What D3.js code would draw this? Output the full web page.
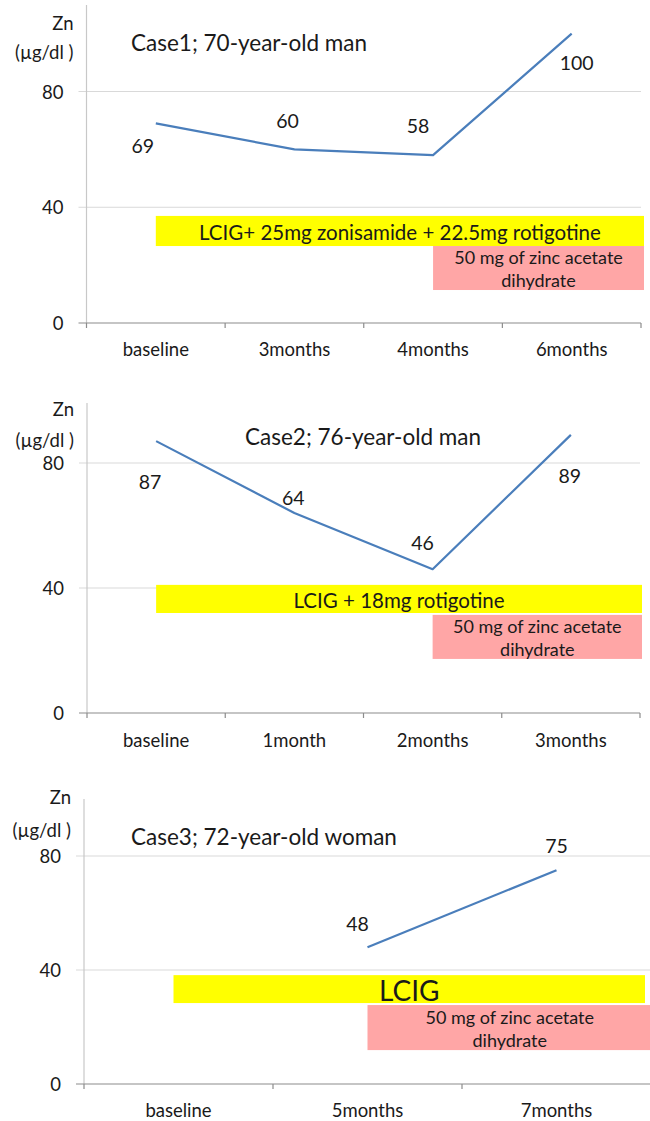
<!DOCTYPE html>
<html>
<head>
<meta charset="utf-8">
<script src="https://cdn.jsdelivr.net/npm/d3@7"></script>
<style>
  html, body { margin: 0; padding: 0; background: #fff; }
  svg { display: block; }
  text { font-family: Lato, "Open Sans", sans-serif; fill: #1a1a1a; }
</style>
</head>
<body>
<svg id="chart" width="650" height="1121"></svg>
<script>
// ---------- data ----------
const yTickValues = [0, 40, 80];
const yUnitLabel = ["Zn", "(\u00b5g/dl )"];
const zincLabel = ["50 mg of zinc acetate", "dihydrate"];

const case1Title = "Case1; 70-year-old man";
const case1Categories = ["baseline", "3months", "4months", "6months"];
const case1Values = [69, 60, 58, 100];
const case1Regimen = "LCIG+ 25mg zonisamide + 22.5mg rotigotine";
const case1ZincStart = "4months";

const case2Title = "Case2; 76-year-old man";
const case2Categories = ["baseline", "1month", "2months", "3months"];
const case2Values = [87, 64, 46, 89];
const case2Regimen = "LCIG + 18mg rotigotine";
const case2ZincStart = "2months";

const case3Title = "Case3; 72-year-old woman";
const case3Categories = ["baseline", "5months", "7months"];
const case3Values = [null, 48, 75];
const case3Regimen = "LCIG";
const case3ZincStart = "5months";

// ---------- layout (pixels / styling only) ----------
const panels = [
  {
    title: case1Title, cats: case1Categories, vals: case1Values, regimen: case1Regimen, zincStart: case1ZincStart,
    left: 86.5, right: 641, y0: 323, y80: 91.5, axisTop: 5,
    znY: 23, unitY: 52, titleX: 131, titleY: 51, xLabelY: 349,
    labelOff: [[-13, 22], [-7, -29], [-15, -30], [5, 29]],
    yellow: { dx: 0, right: 644, top: 37.0, bottom: 26.6 },
    pink: { right: 644, top: 26.6, bottom: 11.4 },
    regimenFs: 20.5
  },
  {
    title: case2Title, cats: case2Categories, vals: case2Values, regimen: case2Regimen, zincStart: case2ZincStart,
    left: 87, right: 640, y0: 713, y80: 463, axisTop: 403,
    znY: 409, unitY: 440, titleX: 245, titleY: 445, xLabelY: 740,
    labelOff: [[-6, 40], [-1, -16], [-10, -27], [-1, 41]],
    yellow: { dx: 0, right: 642, top: 41.0, bottom: 32.0 },
    pink: { right: 642, top: 31.4, bottom: 17.3 },
    regimenFs: 20.5
  },
  {
    title: case3Title, cats: case3Categories, vals: case3Values, regimen: case3Regimen, zincStart: case3ZincStart,
    left: 84, right: 651, y0: 1084, y80: 856, axisTop: 799,
    znY: 797, unitY: 830, titleX: 131, titleY: 845, xLabelY: 1110,
    labelOff: [[0, 0], [-10, -24], [0, -25]],
    yellow: { dx: -5, right: 645, top: 38.2, bottom: 28.4 },
    pink: { right: 652, top: 27.7, bottom: 11.9 },
    regimenFs: 28
  }
];

const svg = d3.select("#chart");

panels.forEach(p => {
  const g = svg.append("g");
  const x = d3.scaleBand().domain(p.cats).range([p.left, p.right]);
  const xc = c => x(c) + x.bandwidth() / 2;
  const y = d3.scaleLinear().domain([0, 80]).range([p.y0, p.y80]);

  // gridlines (with small outside ticks)
  g.selectAll("line.grid").data(yTickValues.filter(v => v !== 0)).join("line")
    .attr("x1", p.left - 8).attr("x2", p.right)
    .attr("y1", d => y(d)).attr("y2", d => y(d))
    .attr("stroke", "#d9d9d9").attr("stroke-width", 1.2);

  // y axis line
  g.append("line")
    .attr("x1", p.left).attr("x2", p.left)
    .attr("y1", p.axisTop).attr("y2", y(0))
    .attr("stroke", "#c8c8c8").attr("stroke-width", 1.2);

  // y tick labels
  g.selectAll("text.ytick").data(yTickValues).join("text")
    .attr("x", p.left - 23).attr("y", d => y(d))
    .attr("text-anchor", "end").attr("dominant-baseline", "central")
    .attr("font-size", 18.5).text(d => d);

  // unit label
  g.append("text").attr("x", p.left - 13).attr("y", p.znY)
    .attr("text-anchor", "end").attr("dominant-baseline", "central")
    .attr("font-size", 18.5).text(yUnitLabel[0]);
  g.append("text").attr("x", p.left - 13).attr("y", p.unitY)
    .attr("text-anchor", "end").attr("dominant-baseline", "central")
    .attr("font-size", 18.5).text(yUnitLabel[1]);

  // x axis (line at 0 with ticks at band edges)
  g.append("line")
    .attr("x1", p.left - 8).attr("x2", p.right)
    .attr("y1", y(0)).attr("y2", y(0))
    .attr("stroke", "#8c8c8c").attr("stroke-width", 1.2);
  const edges = p.cats.map(c => x(c)).concat([p.right]);
  g.selectAll("line.xt").data(edges).join("line")
    .attr("x1", d => d).attr("x2", d => d)
    .attr("y1", y(0)).attr("y2", y(0) + 5)
    .attr("stroke", "#8c8c8c").attr("stroke-width", 1.2);
  g.selectAll("text.xl").data(p.cats).join("text")
    .attr("x", d => xc(d)).attr("y", p.xLabelY)
    .attr("text-anchor", "middle").attr("dominant-baseline", "central")
    .attr("font-size", 18.5).text(d => d);

  // title
  g.append("text").attr("x", p.titleX).attr("y", p.titleY)
    .attr("font-size", 22.5).text(p.title);

  // regimen (yellow) box
  const yx0 = xc(p.cats[0]) + p.yellow.dx;
  g.append("rect")
    .attr("x", yx0).attr("y", y(p.yellow.top))
    .attr("width", p.yellow.right - yx0).attr("height", y(p.yellow.bottom) - y(p.yellow.top))
    .attr("fill", "#ffff00");
  g.append("text")
    .attr("x", (yx0 + p.yellow.right) / 2).attr("y", (y(p.yellow.top) + y(p.yellow.bottom)) / 2 + 1)
    .attr("text-anchor", "middle").attr("dominant-baseline", "central")
    .attr("font-size", p.regimenFs).text(p.regimen);

  // zinc (pink) box
  const px0 = xc(p.zincStart);
  g.append("rect")
    .attr("x", px0).attr("y", y(p.pink.top))
    .attr("width", p.pink.right - px0).attr("height", y(p.pink.bottom) - y(p.pink.top))
    .attr("fill", "#ffa6a6");
  const pcx = (px0 + p.pink.right) / 2;
  const pcy = (y(p.pink.top) + y(p.pink.bottom)) / 2;
  g.append("text").attr("x", pcx).attr("y", pcy - 11)
    .attr("text-anchor", "middle").attr("dominant-baseline", "central")
    .attr("font-size", 18).text(zincLabel[0]);
  g.append("text").attr("x", pcx).attr("y", pcy + 12)
    .attr("text-anchor", "middle").attr("dominant-baseline", "central")
    .attr("font-size", 18).text(zincLabel[1]);

  // series line
  const pts = p.cats.map((c, i) => ({ c, v: p.vals[i], i }));
  const line = d3.line().defined(d => d.v != null).x(d => xc(d.c)).y(d => y(d.v));
  g.append("path").datum(pts).attr("d", line)
    .attr("fill", "none").attr("stroke", "#4a7ebb").attr("stroke-width", 2.2)
    .attr("stroke-linejoin", "round");

  // data labels
  g.selectAll("text.dl").data(pts.filter(d => d.v != null)).join("text")
    .attr("x", d => xc(d.c) + p.labelOff[d.i][0])
    .attr("y", d => y(d.v) + p.labelOff[d.i][1])
    .attr("text-anchor", "middle").attr("dominant-baseline", "central")
    .attr("font-size", 19.5).text(d => d.v);
});
</script>
</body>
</html>
